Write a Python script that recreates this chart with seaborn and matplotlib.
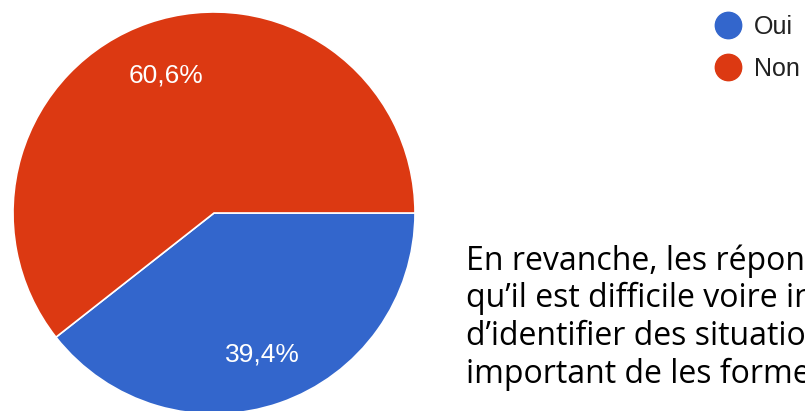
import matplotlib
matplotlib.use("Agg")
import matplotlib.pyplot as plt
from matplotlib.lines import Line2D
import numpy as np
import seaborn as sns

sns.set_theme(style="white")
plt.rcParams["font.family"] = ["Liberation Sans", "DejaVu Sans"]

# ------------------ Dados ------------------ #
categorias = ["Oui", "Non"]
valores = [39.4, 60.6]
rotulos = ["39,4%", "60,6%"]
cores = ["#3366CC", "#DC3912"]

texto_linhas = [
    "En revanche, les répon",
    "qu\u2019il est difficile voire in",
    "d\u2019identifier des situatio",
    "important de les forme",
]

# ------------------ Figura ------------------ #
W, H = 805, 411
fig = plt.figure(figsize=(W / 100, H / 100), dpi=100)
fig.patch.set_facecolor("white")

# pizza: centro (214, 213) px, raio ~201 px
cx, cy, r = 214, 213, 201
ax = fig.add_axes([(cx - r) / W, (H - cy - r) / H, 2 * r / W, 2 * r / H])
wedges, _ = ax.pie(
    valores,
    colors=cores,
    startangle=0,
    counterclock=False,
    radius=1,
    wedgeprops=dict(edgecolor="white", linewidth=1.2),
)
ax.set_xlim(-1, 1)
ax.set_ylim(-1, 1)
ax.set_aspect("equal")
ax.axis("off")

# rótulos de porcentagem
for w, txt in zip(wedges, rotulos):
    ang = np.deg2rad((w.theta1 + w.theta2) / 2)
    ax.text(0.735 * np.cos(ang), 0.735 * np.sin(ang) - 0.01, txt,
            ha="center", va="center", color="white", fontsize=19)

# legenda
handles = [Line2D([], [], marker="o", linestyle="", markersize=19,
                  markerfacecolor=c, markeredgecolor=c) for c in cores]
fig.legend(handles, categorias, loc="upper left",
           bbox_to_anchor=(715 / W, 1 - 15 / H), frameon=False,
           fontsize=18, handlelength=1.0, handletextpad=0.57,
           labelspacing=0.7, borderaxespad=0, borderpad=0,
           labelcolor="#222222")

# texto do slide (cortado na borda, como no original)
for i, linha in enumerate(texto_linhas):
    fig.text(466 / W, 1 - (261 + i * 37.7) / H, linha,
             ha="left", va="center", fontsize=23, color="black",
             family=["Open Sans", "DejaVu Sans"])

fig.savefig("out.png", dpi=100)
